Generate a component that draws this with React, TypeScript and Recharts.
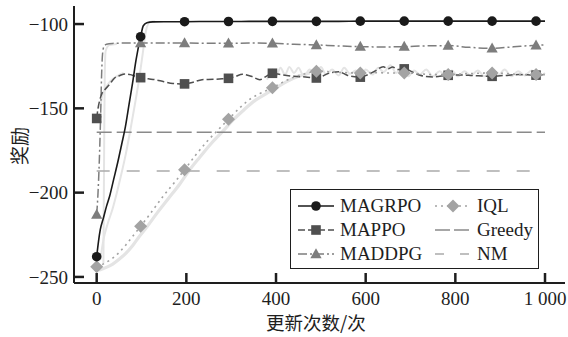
import { LineChart, Line, XAxis, YAxis, Label } from 'recharts';

type Pt = [number, number];

// axis ticks
const xTicks = [0, 200, 400, 600, 800, 1000];
const yTicks = [-250, -200, -150, -100];
// update steps where the markers sit
const markerX = [0, 98, 196, 294, 392, 490, 588, 686, 784, 882, 980];

const magrpo: Pt[] = [
  [0, -238], [4, -229], [8, -222], [15, -215], [22, -208], [29, -202], [38, -192], [47, -182],
  [56, -171], [64, -161], [72, -148], [80, -135], [88, -121], [98, -107.5], [104, -101], [112, -99.2],
  [125, -98.7], [150, -98.6], [196, -98.6], [250, -98.5], [294, -98.5], [350, -98.4], [392, -98.4],
  [440, -98.4], [490, -98.4], [540, -98.4], [588, -98.3], [640, -98.3], [686, -98.3], [730, -98.3],
  [784, -98.3], [830, -98.3], [882, -98.3], [930, -98.3], [980, -98.3], [1000, -98.3],
];

const mappo: Pt[] = [
  [0, -156], [3, -150], [7, -145], [12, -141], [18, -139], [28, -136], [40, -132], [52, -130.5],
  [63, -129.6], [75, -130], [86, -131], [98, -131.8], [115, -132.5], [130, -133], [150, -134.2],
  [170, -135.2], [196, -135.5], [215, -134.5], [235, -133], [260, -132.8], [280, -132.5], [294, -132.2],
  [310, -131], [325, -129.8], [345, -131], [364, -133], [378, -131], [392, -129.2], [410, -130],
  [440, -131], [470, -131.5], [490, -132], [520, -129], [540, -128.3], [560, -130.5], [588, -131.5],
  [605, -130], [620, -128], [639, -125.3], [650, -126.5], [660, -125.5], [672, -127], [686, -126.6],
  [705, -128.5], [721, -130.4], [750, -131.4], [784, -130.4], [810, -130.2], [840, -130.6], [882, -131],
  [910, -130.5], [940, -130], [980, -130.3], [1000, -130],
];

const maddpg: Pt[] = [
  [0, -213], [3, -200], [6, -180], [9, -152], [11, -130], [13, -118], [16, -113.5], [22, -112],
  [35, -111.5], [60, -111.3], [98, -111.3], [150, -111.3], [196, -111.3], [250, -111.4], [294, -111.4],
  [340, -111.3], [392, -111.4], [440, -112], [490, -112.4], [540, -113], [588, -113.4], [640, -113.6],
  [686, -113.4], [730, -113], [784, -112.8], [830, -113.8], [882, -114.4], [930, -113.5], [980, -112.6],
  [1000, -112.4],
];

const iql: Pt[] = [
  [0, -244], [10, -243], [20, -241.5], [35, -239], [50, -235.5], [65, -231], [80, -226], [98, -220],
  [125, -210.5], [150, -201.5], [175, -193.5], [196, -186.4], [220, -178], [245, -170], [270, -163],
  [294, -156.5], [320, -149.5], [345, -144], [370, -140.5], [392, -137.8], [415, -134.5], [440, -131.5],
  [465, -129.5], [490, -128], [520, -128.3], [550, -128.8], [588, -129], [620, -128.8], [650, -129],
  [686, -129], [720, -129.5], [750, -130], [784, -130], [820, -129.5], [850, -129.2], [882, -129],
  [920, -129.5], [950, -130], [980, -130], [1000, -130],
];

const greedy: Pt[] = [[0, -164.2], [1000, -164.2]];
const nm: Pt[] = [[0, -187.1], [1000, -187.1]];

// light grey spread bands behind the mean curves
const magrpoBand: Pt[] = [
  [8, -240], [15, -228], [25, -218], [35, -210], [45, -200], [55, -189], [65, -177], [75, -163],
  [85, -148], [95, -132], [103, -117], [110, -104], [118, -99], [130, -98.5],
];
const maddpgBand: Pt[] = [
  [15, -242], [16, -200], [17, -160], [18, -130], [20, -116], [28, -112.5], [45, -111.8],
];
const mappoBand: Pt[] = [
  [8, -150], [12, -143], [20, -138], [30, -134], [45, -131], [60, -129],
];
const iqlBand: Pt[] = [
  [5, -246], [20, -244.5], [35, -242.5], [50, -239.5], [65, -236], [80, -231.5], [95, -226],
  [110, -221], [135, -212], [160, -203.5], [185, -195], [206, -187], [230, -179], [255, -171],
  [280, -164], [304, -157], [330, -150.5], [355, -145], [380, -141], [402, -137.5], [425, -134],
  [450, -131], [475, -129],
];
const plateauNoise: Pt[] = [
  [380, -133], [392, -127], [400, -131], [410, -126], [420, -130], [430, -125.5], [440, -129],
  [450, -126], [462, -131], [475, -127], [488, -129.5], [500, -125.5], [512, -130], [525, -127],
  [540, -130.5], [552, -126], [565, -129.5], [578, -127.5], [590, -131], [600, -127], [615, -130],
  [628, -126], [640, -128.5], [655, -124.5], [668, -129], [680, -126], [695, -131], [708, -127.5],
  [720, -130], [735, -127], [750, -131], [765, -128], [778, -130.5], [792, -127.5], [806, -131],
  [820, -128], [835, -130.5], [850, -127.5], [865, -131], [880, -128], [895, -130.5], [910, -127],
  [925, -131], [940, -128], [955, -130.5], [970, -127.5], [985, -131], [1000, -129],
];

const rows = (pts: Pt[]) => pts.map(([x, y]) => ({ x, y }));

type Kind = 'circle' | 'square' | 'triangle' | 'diamond' | 'none';

function Mark({ kind, cx, cy, fill }: { kind: Kind; cx: number; cy: number; fill: string }) {
  if (kind === 'circle') return <circle cx={cx} cy={cy} r={4.8} fill={fill} />;
  if (kind === 'square') return <rect x={cx - 4.8} y={cy - 4.8} width={9.6} height={9.6} fill={fill} />;
  if (kind === 'triangle')
    return <polygon points={`${cx},${cy - 5.8} ${cx + 5.6},${cy + 4.2} ${cx - 5.6},${cy + 4.2}`} fill={fill} />;
  if (kind === 'diamond')
    return <polygon points={`${cx},${cy - 6.5} ${cx + 6.5},${cy} ${cx},${cy + 6.5} ${cx - 6.5},${cy}`} fill={fill} />;
  return null;
}

const series = [
  { name: 'NM', data: nm, color: '#aaaaaa', dash: '13 17', mark: 'none' as Kind, width: 1.5 },
  { name: 'Greedy', data: greedy, color: '#8a8a8a', dash: '15 5', mark: 'none' as Kind, width: 1.5 },
  { name: 'MADDPG', data: maddpg, color: '#7d7d7d', dash: '9 3 2 3', mark: 'triangle' as Kind, width: 1.5 },
  { name: 'MAPPO', data: mappo, color: '#4f4f4f', dash: '7 3', mark: 'square' as Kind, width: 1.5 },
  { name: 'IQL', data: iql, color: '#a3a3a3', dash: '2 4', mark: 'diamond' as Kind, width: 1.6 },
  { name: 'MAGRPO', data: magrpo, color: '#1a1a1a', dash: undefined, mark: 'circle' as Kind, width: 1.6 },
];

const bands = [magrpoBand, maddpgBand, mappoBand, iqlBand, plateauNoise];

const legendItems = [
  { s: 'MAGRPO', col: 0, row: 0 },
  { s: 'MAPPO', col: 0, row: 1 },
  { s: 'MADDPG', col: 0, row: 2 },
  { s: 'IQL', col: 1, row: 0 },
  { s: 'Greedy', col: 1, row: 1 },
  { s: 'NM', col: 1, row: 2 },
];

const serif = '"Liberation Serif", "Times New Roman", serif';
const cjk = '"Noto Sans CJK SC", sans-serif';
const ink = '#1e1e1e';

function LegendSample({ name }: { name: string }) {
  const s = series.find((d) => d.name === name)!;
  let dash = s.dash;
  if (name === 'NM') dash = '9 16';
  if (name === 'Greedy') dash = '15 4';
  return (
    <svg width={36} height={16} style={{ display: 'block' }}>
      <line x1={0} y1={8} x2={36} y2={8} stroke={s.color} strokeWidth={s.width} strokeDasharray={dash} />
      <Mark kind={s.mark} cx={18} cy={8} fill={s.color} />
    </svg>
  );
}

export default function App() {
  return (
    <div style={{ position: 'absolute', left: 0, top: 0, width: 568, height: 337, background: '#fff' }}>
      <LineChart width={568} height={337} margin={{ top: 6, right: 3, bottom: 0, left: 0 }}>
        <XAxis
          type="number"
          dataKey="x"
          domain={[-50.6, 1044.6]}
          allowDataOverflow
          ticks={xTicks}
          interval={0}
          tickFormatter={(v: number) => (v === 1000 ? '1 000' : String(v))}
          height={54}
          tickSize={-10}
          tickMargin={18.5}
          axisLine={{ stroke: ink, strokeWidth: 2 }}
          tickLine={{ stroke: ink, strokeWidth: 2.5 }}
          tick={{ fill: ink, fontSize: 19, fontFamily: serif }}
        >
          <Label
            content={() => (
              <text x={316} y={322} textAnchor="middle" dominantBaseline="central" fontSize={18.5} fontFamily={cjk} fill={ink}>
                更新次数/次
              </text>
            )}
          />
        </XAxis>
        <XAxis xAxisId="top" orientation="top" type="number" dataKey="x" domain={[-50.6, 1044.6]} allowDataOverflow
          height={0} tick={false} tickLine={false} axisLine={{ stroke: ink, strokeWidth: 2 }} />
        <YAxis
          type="number"
          domain={[-253.6, -89.3]}
          allowDataOverflow
          ticks={yTicks}
          interval={0}
          tickFormatter={(v: number) => String(v).replace('-', '\u2212')}
          width={74}
          tickSize={-10}
          tickMargin={16}
          axisLine={{ stroke: ink, strokeWidth: 2 }}
          tickLine={{ stroke: ink, strokeWidth: 2.5 }}
          tick={{ fill: ink, fontSize: 19, fontFamily: serif }}
        >
          <Label
            content={() => (
              <text x={18} y={146} transform="rotate(-90 18 146)" textAnchor="middle" dominantBaseline="central"
                fontSize={19} fontFamily={cjk} fill={ink}>
                奖励
              </text>
            )}
          />
        </YAxis>
        <YAxis yAxisId="right" orientation="right" type="number" domain={[-253.6, -89.3]} allowDataOverflow
          width={0} tick={false} tickLine={false} axisLine={{ stroke: ink, strokeWidth: 2 }} />

        {bands.map((b, i) => (
          <Line key={`band-${i}`} data={rows(b)} dataKey="y" type="monotone" stroke="#e4e4e4"
            strokeWidth={i === 3 ? 3.2 : 2} dot={false} activeDot={false} isAnimationActive={false} />
        ))}

        {series.map((s) => (
          <Line
            key={s.name}
            name={s.name}
            data={rows(s.data)}
            dataKey="y"
            type="monotone"
            stroke={s.color}
            strokeWidth={s.width}
            strokeDasharray={s.dash}
            activeDot={false}
            isAnimationActive={false}
            dot={(p: any) =>
              s.mark !== 'none' && markerX.includes(p.payload.x) ? (
                <Mark key={`${s.name}-${p.index}`} kind={s.mark} cx={p.cx} cy={p.cy} fill={s.color} />
              ) : (
                <g key={`${s.name}-${p.index}`} />
              )
            }
          />
        ))}
      </LineChart>

      <div
        style={{
          position: 'absolute', left: 290, top: 189, width: 249, height: 80, boxSizing: 'border-box',
          border: `1.5px solid ${ink}`, background: '#fff',
        }}
      >
        {legendItems.map((it) => (
          <div
            key={it.s}
            style={{
              position: 'absolute', left: it.col === 0 ? 7 : 144, top: 5 + it.row * 24, height: 22,
              display: 'flex', alignItems: 'center', gap: 6,
              fontFamily: serif, fontSize: 19, color: ink, whiteSpace: 'nowrap',
            }}
          >
            <LegendSample name={it.s} />
            <span>{it.s}</span>
          </div>
        ))}
      </div>
    </div>
  );
}
